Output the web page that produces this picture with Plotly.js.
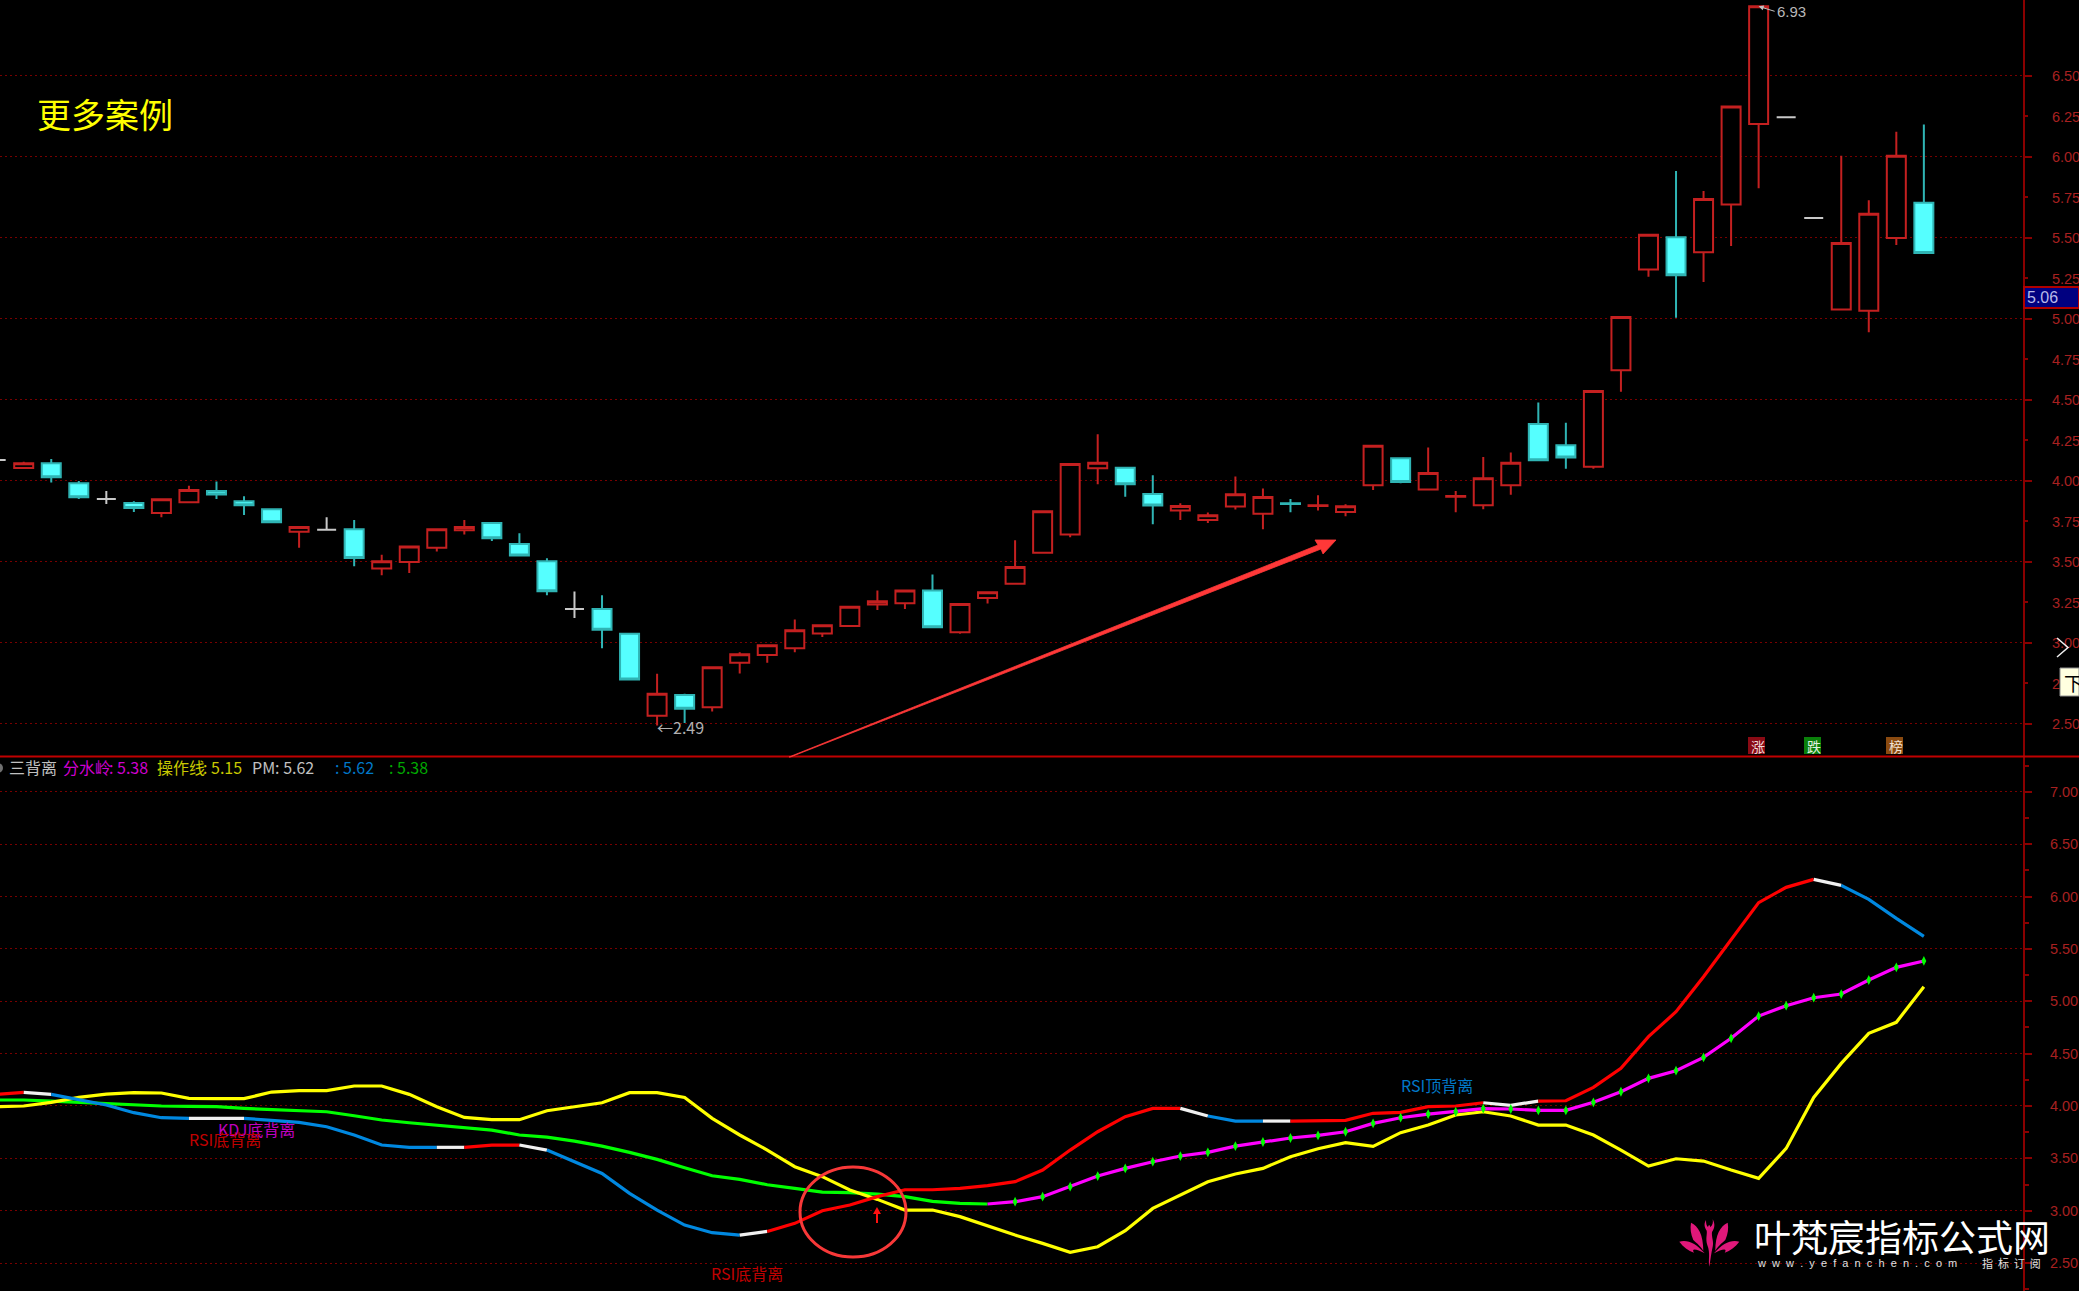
<!DOCTYPE html>
<html><head><meta charset="utf-8">
<script src="https://cdn.plot.ly/plotly-3.0.1.min.js"></script>
<style>html,body{margin:0;padding:0;background:#000;overflow:hidden}</style></head>
<body><div id="chart" style="width:2079px;height:1291px"></div>
<script>
// bar index runs from -1 to 69
const firstBar = -1;
const open  = [4.13,4.08,4.109,3.986,3.889,3.864,3.802,3.868,3.938,3.874,3.825,3.687,3.698,3.702,3.459,3.5,3.588,3.695,3.741,3.611,3.504,3.21,3.21,3.056,2.551,2.679,2.603,2.877,2.926,2.967,3.058,3.105,3.237,3.245,3.323,3.066,3.278,3.366,3.556,3.669,4.078,4.082,3.92,3.817,3.759,3.842,3.798,3.862,3.846,3.809,3.973,4.14,3.947,3.903,3.85,3.973,4.352,4.22,4.088,4.683,5.305,5.504,5.412,5.706,6.204,6.245,5.623,5.058,5.051,5.5,5.718];
const close = [4.13,4.109,4.023,3.9,3.889,3.833,3.887,3.944,3.916,3.85,3.745,3.716,3.698,3.525,3.504,3.595,3.702,3.716,3.646,3.539,3.319,3.21,3.082,2.774,2.687,2.593,2.85,2.93,2.986,3.078,3.109,3.224,3.257,3.323,3.097,3.241,3.313,3.469,3.813,4.105,4.113,3.979,3.848,3.846,3.788,3.918,3.901,3.858,3.85,3.844,4.218,3.994,4.049,3.907,4.016,4.113,4.128,4.144,4.556,5.012,5.52,5.27,5.741,6.311,6.93,6.245,5.623,5.469,5.65,6.008,5.407];
const high  = [4.13,4.119,4.136,4.0,3.938,3.874,3.887,3.971,3.996,3.905,3.825,3.716,3.776,3.759,3.545,3.595,3.702,3.759,3.741,3.677,3.523,3.317,3.294,3.056,2.81,2.687,2.85,2.942,2.986,3.144,3.109,3.224,3.323,3.323,3.422,3.241,3.313,3.634,3.813,4.105,4.288,4.082,4.035,3.862,3.805,4.027,3.953,3.889,3.912,3.856,4.218,4.14,4.206,3.938,4.148,4.175,4.484,4.36,4.556,5.012,5.52,5.914,5.79,6.311,6.93,6.245,5.623,6.008,5.733,6.156,6.2];
const low   = [4.13,4.08,3.99,3.889,3.858,3.809,3.776,3.868,3.889,3.79,3.745,3.588,3.698,3.473,3.418,3.432,3.564,3.669,3.63,3.539,3.294,3.154,2.967,2.774,2.49,2.506,2.576,2.811,2.877,2.942,3.037,3.105,3.204,3.21,3.097,3.056,3.243,3.366,3.556,3.652,3.979,3.903,3.733,3.759,3.741,3.823,3.702,3.807,3.817,3.782,3.944,3.986,3.947,3.807,3.825,3.914,4.128,4.076,4.076,4.551,5.261,5.008,5.228,5.451,5.807,6.245,5.623,5.058,4.918,5.457,5.407];
const whiteBars = [-1,3,11,20,64,65];

const pm = [4.111,4.13,4.111,4.063,4.009,3.936,3.888,3.882,3.882,3.882,3.866,3.844,3.802,3.723,3.627,3.605,3.605,3.605,3.627,3.627,3.579,3.468,3.356,3.165,3.006,2.863,2.79,2.767,2.802,2.879,3.0,3.054,3.134,3.2,3.2,3.213,3.239,3.277,3.388,3.579,3.754,3.898,3.977,3.977,3.904,3.856,3.856,3.856,3.856,3.863,3.93,3.939,3.993,4.0,4.031,4.006,4.047,4.05,4.178,4.359,4.662,4.9,5.235,5.585,5.942,6.088,6.164,6.107,5.973,5.792,5.62];
const pmRuns = [[-1,0,'#ff0000'],[0,1,'#f0f0f0'],[1,6,'#0088e0'],[6,8,'#f0f0f0'],[8,15,'#0088e0'],[15,16,'#f0f0f0'],[16,18,'#ff0000'],[18,19,'#f0f0f0'],[19,26,'#0088e0'],[26,27,'#f0f0f0'],[27,42,'#ff0000'],[42,43,'#f0f0f0'],[43,45,'#0088e0'],[45,46,'#f0f0f0'],[46,53,'#ff0000'],[53,55,'#f0f0f0'],[55,65,'#ff0000'],[65,66,'#f0f0f0'],[66,69,'#0088e0']];
const watershed = [4.057,4.057,4.047,4.035,4.019,4.006,4.0,3.996,3.993,3.977,3.964,3.955,3.945,3.907,3.866,3.84,3.815,3.789,3.77,3.723,3.703,3.665,3.617,3.557,3.49,3.41,3.334,3.299,3.248,3.213,3.178,3.172,3.159,3.134,3.089,3.07,3.064,3.086,3.134,3.229,3.331,3.404,3.468,3.522,3.557,3.617,3.656,3.694,3.719,3.754,3.834,3.888,3.923,3.945,3.974,3.971,3.958,3.958,4.035,4.136,4.264,4.337,4.464,4.646,4.859,4.958,5.034,5.069,5.203,5.324,5.385];
const watershedSwitch = 35;
const operate = [3.993,4.0,4.035,4.082,4.114,4.127,4.124,4.073,4.07,4.07,4.133,4.146,4.146,4.191,4.191,4.111,3.993,3.891,3.869,3.869,3.955,3.993,4.031,4.127,4.127,4.082,3.882,3.723,3.579,3.42,3.325,3.197,3.108,3.006,3.006,2.943,2.853,2.767,2.688,2.602,2.656,2.809,3.022,3.149,3.277,3.35,3.404,3.516,3.592,3.649,3.614,3.745,3.818,3.914,3.945,3.904,3.818,3.818,3.723,3.579,3.426,3.496,3.474,3.388,3.309,3.595,4.082,4.407,4.694,4.799,5.139];
const priceTicks = [2.5,2.75,3,3.25,3.5,3.75,4,4.25,4.5,4.75,5,5.25,5.5,5.75,6,6.25,6.5];

const W=2079,H=1291,PW=2023;
const X=p=>p/PW, Y=p=>1-p/H;
const bars = open.map((_,k)=>k+firstBar);
const wrapIdx = b=>b-firstBar;
const isWhite = b=>whiteBars.includes(b);
function candle(filter,incCol,incFill,decCol,decFill){
  const xs=bars.filter(filter), pick=a=>xs.map(b=>a[wrapIdx(b)]);
  return {type:'candlestick',x:xs,open:pick(open),high:pick(high),low:pick(low),close:pick(close),
    xaxis:'x',yaxis:'y',whiskerwidth:0,hoverinfo:'skip',showlegend:false,
    increasing:{line:{color:incCol,width:2},fillcolor:incFill},
    decreasing:{line:{color:decCol,width:2},fillcolor:decFill}};
}
function line(xs,ys,color,width){
  return {type:'scatter',mode:'lines',x:xs,y:ys,xaxis:'x',yaxis:'y2',line:{color,width,shape:'linear'},hoverinfo:'skip',showlegend:false};
}
const traces=[
  candle(b=>!isWhite(b),'#c42020','#000000','#2fb4b4','#55ffff'),
  candle(isWhite,'#c8c8c8','#c8c8c8','#c8c8c8','#c8c8c8'),
  {type:'scatter',x:[0],y:[null],xaxis:'x',yaxis:'y3',hoverinfo:'skip',showlegend:false,mode:'markers'},
];
const upto = wrapIdx(watershedSwitch);
traces.push(line(bars.slice(0,upto+1),watershed.slice(0,upto+1),'#00ff00',3.2));
traces.push(line(bars,operate,'#ffff00',3.2));
pmRuns.forEach(r=>{const a=wrapIdx(r[0]),b=wrapIdx(r[1]);traces.push(line(bars.slice(a,b+1),pm.slice(a,b+1),r[2],3.2));});
traces.push(line(bars.slice(upto),watershed.slice(upto),'#ff00ff',3.2));
traces.push({type:'scatter',mode:'markers',x:bars.slice(upto+1),y:watershed.slice(upto+1),xaxis:'x',yaxis:'y2',
  marker:{symbol:'diamond-tall',size:7,color:'#00ff00',line:{width:0}},hoverinfo:'skip',showlegend:false});

const tickFont={family:'"Liberation Sans",Arial,sans-serif',size:14.5,color:'#a82020'};
const cjk='"Noto Sans CJK SC","Liberation Sans",sans-serif';
const T=(text,x,y,size,color,extra)=>Object.assign({text,xref:'paper',yref:'paper',x:X(x),y:Y(y),xanchor:'left',yanchor:'middle',showarrow:false,font:{family:cjk,size,color}},extra||{});
const annotations=[
  T('更多案例',35,114,34,'#ffff00'),
  T('←2.49',655,727,16,'#b0b0b0'),
  {text:'6.93',xref:'x',yref:'y',x:63,y:6.93,ax:16,ay:5,axref:'pixel',ayref:'pixel',showarrow:true,arrowhead:2,arrowsize:1,arrowwidth:1,arrowcolor:'#c0c0c0',xanchor:'left',yanchor:'middle',font:{family:'"Liberation Sans",sans-serif',size:15,color:'#b8b8b8'}},
  T('三背离',7,767,16,'#c0c0c0'),
  T('分水岭',61,767,16,'#d000d0'),T(': 5.38',107,767,16,'#d000d0'),
  T('操作线',155,767,16,'#c8c800'),T(': 5.15',201,767,16,'#c8c800'),
  T('PM: 5.62',250,767,16,'#c0c0c0'),
  T(': 5.62',333,767,16,'#0078c8'),
  T(': 5.38',387,767,16,'#00a800'),
  T('KDJ底背离',216,1129,16,'#c000c0'),
  T('RSI底背离',187,1139,16,'#c00000'),
  T('RSI底背离',709,1273,16,'#c00000'),
  T('RSI顶背离',1399,1085,16,'#0078c8'),
  T('涨',1749,746,14,'#f0d8d8'),
  T('跌',1805,746,14,'#e0f0e0'),
  T('榜',1887,746,14,'#f0e0d0'),
  T('5.06',2025,297,16,'#b8b8e8',{font:{family:'"Liberation Sans",sans-serif',size:16,color:'#b8b8e8'}}),
  T('下',2062,682,19,'#000000'),
  T('叶梵宸指标公式网',1752,1236,37,'#ffffff'),
  T('w\u00a0\u00a0w\u00a0\u00a0w\u00a0\u00a0.\u00a0\u00a0y\u00a0\u00a0e\u00a0\u00a0f\u00a0\u00a0a\u00a0\u00a0n\u00a0\u00a0c\u00a0\u00a0h\u00a0\u00a0e\u00a0\u00a0n\u00a0\u00a0.\u00a0\u00a0c\u00a0\u00a0o\u00a0\u00a0m',1755,1263,11,'#e0e0e0',{font:{family:'"Liberation Sans",sans-serif',size:11,color:'#e0e0e0'}}),
  T('指\u00a0\u00a0标\u00a0\u00a0订\u00a0\u00a0阅',1980,1263,11,'#e0e0e0'),
];
// decorations in window pixels
const P=d=>d.replace(/([MLC ,])(-?[\d.]+),(-?[\d.]+)/g,(m,c,a,b)=>c+X(+a).toFixed(5)+','+Y(+b).toFixed(5));
const path=(d,fill,lineCol,w)=>({type:'path',xref:'paper',yref:'paper',path:P(d),fillcolor:fill,line:{color:lineCol||fill,width:w||0},layer:'above'});
const rect=(x0,y0,x1,y1,fill,lc,w)=>({type:'rect',xref:'paper',yref:'paper',x0:X(x0),x1:X(x1),y0:Y(y0),y1:Y(y1),fillcolor:fill,line:{color:lc||fill,width:w||0},layer:'above'});
// lotus logo: zoom-crop coordinates mapped into window pixels
const L=(x,y)=>(1670+x/3).toFixed(1)+','+(1210+y/3).toFixed(1);
const LM=(x,y)=>L(236-x,y);
function petal(F){return [
  'M'+F(28,95)+' C'+F(52,88)+' '+F(78,100)+' '+F(104,130)+' C'+F(82,118)+' '+F(62,112)+' '+F(72,128)+' C'+F(55,122)+' '+F(40,112)+' '+F(28,95)+' Z',
  'M'+F(63,38)+' C'+F(85,48)+' '+F(100,75)+' '+F(100,122)+' C'+F(88,104)+' '+F(76,96)+' '+F(70,90)+' C'+F(62,72)+' '+F(60,55)+' '+F(63,38)+' Z'];}
const lotusPaths=[...petal(L),...petal(LM),
  'M'+L(118,170)+' C'+L(114,150)+' '+L(122,130)+' '+L(112,105)+' C'+L(106,85)+' '+L(112,75)+' '+L(110,62)+' C'+L(102,50)+' '+L(102,40)+' '+L(108,30)+' C'+L(108,42)+' '+L(110,48)+' '+L(115,52)+' C'+L(112,45)+' '+L(122,42)+' '+L(120,52)+' C'+L(128,46)+' '+L(130,38)+' '+L(128,28)+' C'+L(136,42)+' '+L(134,55)+' '+L(126,66)+' C'+L(124,80)+' '+L(132,95)+' '+L(128,110)+' C'+L(124,128)+' '+L(122,145)+' '+L(118,170)+' Z'];
const shapes=[
  {type:'line',xref:'paper',yref:'paper',x0:0,x1:W/PW,y0:Y(756.5),y1:Y(756.5),line:{color:'#c00000',width:2},layer:'above'},
  path('M789,757 L1318,545 L1315,540 L1336,540 L1323,554 L1321,549 L790.5,757 Z','#ff3838','#ff3838',0.8),
  {type:'circle',xref:'paper',yref:'paper',x0:X(800),x1:X(906),y0:Y(1167),y1:Y(1257),line:{color:'#f83838',width:3},layer:'above'},
  path('M876,1223 L876,1214 L873,1214 L877,1207 L881,1214 L878,1214 L878,1223 Z','#ff1010'),
  rect(2024,287,2079,308,'#000080','#b00000',2),
  rect(2060,668,2079,696,'#ffffe0','#909090',1),
  {type:'path',xref:'paper',yref:'paper',path:P('M2057,638 L2068,647.5 L2057,657'),line:{color:'#f0f0f0',width:1.5},layer:'above'},
  rect(1748,737,1765,754,'#8a0a14'),
  rect(1804,737,1821,754,'#0a800a'),
  rect(1886,737,1903,754,'#8a4a10'),
  {type:'circle',xref:'paper',yref:'paper',x0:X(-7),x1:X(3),y0:Y(763),y1:Y(773),fillcolor:'#707070',line:{width:0},layer:'above'},
  ...lotusPaths.map(d=>path(d,'#e0187a')),
];
const yCommon={side:'right',showline:true,linecolor:'#8a0000',linewidth:2,ticks:'outside',tickcolor:'#8a0000',tickwidth:2,
  zeroline:false,griddash:'2px,3px',gridcolor:'#780000',gridwidth:1,tickfont:tickFont,anchor:'x',fixedrange:true};
const layout={width:W,height:H,paper_bgcolor:'#000',plot_bgcolor:'#000',showlegend:false,
  margin:{l:0,r:W-PW,t:0,b:0,pad:0},
  boxgap:0.31,boxgroupgap:0,boxmode:'overlay',
  xaxis:{type:'linear',range:[-0.861,72.6],visible:false,showgrid:false,zeroline:false,rangeslider:{visible:false},fixedrange:true},
  yaxis:Object.assign({},yCommon,{domain:[Y(756),1],range:[2.302,6.969],dtick:0.5,tick0:2.5,ticklen:7,showticklabels:false,showgrid:true,
     minor:{ticks:''}}),
  yaxis3:Object.assign({},yCommon,{overlaying:'y',range:[2.302,6.969],tickmode:'array',tickvals:priceTicks,ticktext:priceTicks.map(v=>v.toFixed(2)),
     ticklen:4,showgrid:false,showline:false,ticklabelstandoff:21}),
  yaxis2:Object.assign({},yCommon,{domain:[0,Y(757)],range:[2.233,7.333],dtick:0.5,tick0:2.5,ticklen:7,tickformat:'.2f',showgrid:true,
     ticklabelstandoff:15,minor:{dtick:0.25,tick0:2.5,ticks:'outside',ticklen:4,tickcolor:'#8a0000',tickwidth:2,showgrid:false}}),
  annotations,shapes};
Plotly.newPlot('chart',traces,layout,{displayModeBar:false,staticPlot:true});
</script></body></html>
